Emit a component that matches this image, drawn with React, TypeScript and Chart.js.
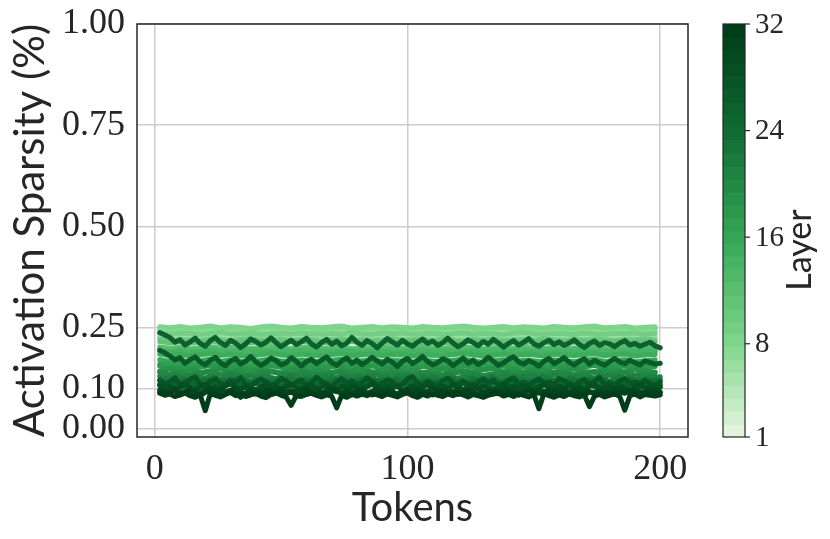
import { useEffect, useRef } from "react";
import { Chart, registerables } from "chart.js";

Chart.register(...registerables);

// Token positions for the smoother (early / mid) layers
const tokensCoarse = [2, 6, 10, 14, 18, 22, 26, 30, 34, 38, 42, 46, 50, 54, 58, 62, 66, 70, 74, 78, 82, 86, 90, 94, 98, 102, 106, 110, 114, 118, 122, 126, 130, 134, 138, 142, 146, 150, 154, 158, 162, 166, 170, 174, 178, 182, 186, 190, 194, 198];
// Token positions for the noisy (late) layers
const tokensFine = [2, 4, 6, 8, 10, 12, 14, 16, 18, 20, 22, 24, 26, 28, 30, 32, 34, 36, 38, 40, 42, 44, 46, 48, 50, 52, 54, 56, 58, 60, 62, 64, 66, 68, 70, 72, 74, 76, 78, 80, 82, 84, 86, 88, 90, 92, 94, 96, 98, 100, 102, 104, 106, 108, 110, 112, 114, 116, 118, 120, 122, 124, 126, 128, 130, 132, 134, 136, 138, 140, 142, 144, 146, 148, 150, 152, 154, 156, 158, 160, 162, 164, 166, 168, 170, 172, 174, 176, 178, 180, 182, 184, 186, 188, 190, 192, 194, 196, 198, 200];

// Activation sparsity per layer
const layer01 = [.244,.242,.243,.245,.241,.243,.244,.242,.240,.243,.245,.243,.242,.244,.241,.243,.245,.242,.243,.241,.244,.243,.242,.245,.243,.241,.242,.244,.243,.242,.245,.243,.241,.243,.244,.242,.243,.245,.242,.241,.243,.244,.242,.243,.245,.242,.243,.241,.244,.243];
const layer02 = [.207,.203,.206,.202,.205,.208,.204,.206,.203,.201,.206,.208,.205,.202,.207,.204,.203,.206,.208,.202,.205,.207,.203,.206,.205,.202,.207,.204,.203,.206,.208,.205,.202,.204,.207,.203,.206,.205,.202,.207,.205,.203,.206,.208,.203,.205,.207,.202,.205,.206];
const layer03 = [.177,.175,.178,.174,.176,.175,.179,.176,.174,.177,.178,.175,.176,.174,.178,.176,.175,.177,.174,.176,.179,.175,.176,.178,.174,.176,.177,.175,.178,.176,.174,.177,.176,.179,.175,.176,.174,.177,.178,.175,.176,.174,.177,.176,.178,.175,.174,.177,.176,.175];
const layer04 = [.230,.228,.231,.229,.227,.230,.232,.229,.228,.230,.231,.228,.229,.231,.227,.229,.230,.232,.228,.229,.231,.230,.227,.229,.230,.232,.229,.228,.230,.231,.229,.227,.230,.229,.231,.228,.230,.232,.229,.228,.230,.229,.231,.227,.229,.230,.231,.228,.230,.229];
const layer05 = [.240,.237,.239,.236,.238,.241,.237,.239,.238,.235,.239,.241,.238,.236,.240,.238,.237,.239,.241,.236,.238,.240,.237,.239,.238,.236,.240,.238,.237,.239,.241,.238,.236,.238,.240,.237,.239,.238,.236,.240,.238,.237,.239,.241,.237,.238,.240,.236,.238,.239];
const layer06 = [.228,.224,.227,.225,.223,.228,.226,.224,.227,.229,.225,.226,.228,.224,.226,.227,.223,.226,.228,.225,.227,.224,.226,.229,.225,.226,.228,.224,.227,.225,.223,.227,.226,.228,.224,.226,.227,.225,.229,.226,.224,.227,.225,.228,.226,.224,.227,.226,.228,.225];
const layer07 = [.247,.245,.248,.244,.246,.249,.245,.247,.246,.243,.247,.249,.246,.244,.248,.246,.245,.247,.249,.244,.246,.248,.245,.247,.246,.244,.248,.246,.245,.247,.249,.246,.244,.246,.248,.245,.247,.246,.244,.248,.246,.245,.247,.249,.245,.246,.248,.244,.246,.247];
const layer08 = [.252,.250,.253,.249,.251,.254,.250,.252,.251,.248,.252,.254,.251,.249,.253,.251,.250,.252,.254,.249,.251,.253,.250,.252,.251,.249,.253,.251,.250,.252,.254,.251,.249,.251,.253,.250,.252,.251,.249,.253,.251,.250,.252,.254,.250,.251,.253,.249,.251,.252];
const layer09 = [.236,.234,.237,.235,.233,.236,.238,.234,.235,.237,.233,.235,.236,.234,.237,.235,.233,.236,.234,.238,.235,.233,.236,.235,.237,.234,.235,.236,.233,.235,.237,.234,.236,.235,.233,.236,.238,.235,.234,.236,.235,.233,.237,.235,.234,.236,.235,.237,.234,.236];
const layer10 = [.222,.218,.221,.219,.217,.222,.220,.218,.221,.223,.219,.220,.222,.218,.220,.221,.217,.220,.222,.219,.221,.218,.220,.223,.219,.220,.222,.218,.221,.219,.217,.221,.220,.222,.218,.220,.221,.219,.223,.220,.218,.221,.219,.222,.220,.218,.221,.220,.222,.219];
const layer11 = [.216,.213,.215,.212,.214,.217,.213,.215,.214,.212,.216,.214,.213,.215,.217,.213,.214,.212,.215,.216,.213,.214,.215,.212,.214,.216,.213,.215,.214,.212,.215,.217,.214,.213,.215,.214,.212,.216,.214,.213,.215,.214,.216,.213,.214,.215,.212,.214,.216,.214];
const layer12 = [.202,.199,.201,.198,.200,.203,.199,.201,.200,.197,.201,.203,.200,.198,.201,.202,.199,.200,.202,.198,.200,.201,.203,.199,.200,.198,.202,.200,.199,.201,.203,.200,.198,.200,.202,.199,.201,.200,.198,.202,.200,.199,.201,.203,.199,.200,.202,.198,.200,.201];
const layer13 = [.196,.192,.195,.193,.191,.197,.194,.192,.196,.198,.193,.194,.197,.192,.194,.196,.191,.194,.197,.193,.195,.192,.194,.198,.193,.194,.197,.192,.195,.193,.191,.196,.194,.197,.192,.194,.196,.193,.198,.194,.192,.196,.193,.197,.194,.192,.196,.194,.197,.193];
const layer14 = [.192,.189,.191,.188,.190,.193,.189,.190,.191,.188,.192,.190,.189,.191,.193,.189,.190,.188,.191,.192,.189,.190,.191,.188,.190,.192,.189,.191,.190,.188,.191,.193,.190,.189,.191,.190,.188,.192,.190,.189,.191,.190,.192,.189,.190,.191,.188,.190,.192,.190];
const layer15 = [.185,.181,.184,.180,.183,.186,.182,.184,.181,.179,.184,.186,.183,.180,.185,.182,.181,.184,.186,.180,.183,.185,.181,.184,.183,.180,.185,.182,.181,.184,.186,.183,.180,.182,.185,.181,.184,.183,.180,.185,.183,.181,.184,.186,.181,.183,.185,.180,.183,.184];
const layer16 = [.171,.166,.169,.165,.168,.172,.166,.170,.167,.164,.169,.172,.168,.165,.170,.167,.165,.169,.172,.165,.168,.171,.166,.169,.168,.164,.170,.167,.166,.169,.172,.168,.164,.167,.171,.166,.169,.168,.165,.170,.168,.166,.169,.172,.166,.168,.171,.165,.168,.170];
const layer17 = [.160,.157,.159,.156,.158,.161,.157,.159,.158,.155,.159,.161,.158,.156,.159,.160,.157,.158,.160,.156,.158,.159,.161,.157,.158,.156,.160,.158,.157,.159,.161,.158,.156,.158,.160,.157,.159,.158,.156,.160,.158,.157,.159,.161,.157,.158,.160,.156,.158,.159];
const layer18 = [.155,.149,.153,.148,.152,.157,.150,.154,.151,.147,.153,.156,.152,.148,.155,.151,.149,.153,.157,.148,.152,.155,.150,.153,.152,.147,.154,.151,.149,.153,.156,.152,.147,.151,.155,.149,.153,.152,.148,.154,.152,.149,.153,.157,.149,.152,.155,.148,.152,.154];
const layer19 = [.143,.148,.141,.146,.139,.144,.149,.142,.145,.140,.147,.143,.138,.145,.148,.141,.144,.139,.146,.142,.149,.140,.144,.147,.141,.145,.138,.143,.148,.142,.144,.140,.146,.149,.141,.143,.139,.147,.144,.140,.145,.148,.142,.139,.146,.143,.141,.147,.144,.140];
const layer20 = [.140,.134,.138,.133,.137,.142,.135,.139,.136,.131,.138,.141,.137,.133,.140,.136,.134,.138,.142,.133,.137,.140,.135,.138,.137,.132,.139,.136,.134,.138,.141,.137,.132,.136,.140,.134,.138,.137,.133,.139,.137,.134,.138,.142,.134,.137,.140,.133,.137,.139];
const layer21 = [.131,.126,.129,.134,.127,.124,.130,.133,.128,.125,.131,.127,.122,.129,.134,.130,.126,.128,.132,.125,.129,.133,.127,.124,.130,.128,.135,.129,.126,.131,.127,.123,.129,.132,.128,.126,.133,.129,.124,.128,.131,.127,.130,.134,.126,.129,.125,.131,.128,.133,.127,.124,.130,.128,.132,.126,.129,.135,.128,.125,.130,.127,.132,.129,.124,.128,.131,.126,.130,.133,.127,.125,.129,.132,.128,.126,.131,.127,.134,.129,.125,.130,.128,.132,.126,.129,.124,.131,.128,.133,.127,.130,.126,.129,.132,.128,.125,.130,.127,.129];
const layer22 = [.118,.124,.121,.117,.125,.122,.119,.126,.120,.116,.123,.127,.121,.118,.124,.120,.125,.122,.117,.121,.126,.119,.123,.120,.116,.124,.128,.121,.118,.123,.120,.125,.119,.122,.127,.120,.117,.124,.121,.125,.119,.122,.126,.118,.121,.124,.120,.116,.123,.127,.121,.119,.124,.120,.125,.122,.118,.123,.126,.120,.117,.122,.125,.121,.119,.124,.127,.120,.118,.123,.121,.126,.119,.122,.117,.124,.128,.121,.119,.123,.120,.125,.122,.118,.124,.121,.126,.119,.122,.117,.123,.127,.120,.124,.121,.118,.125,.122,.119,.123];
const layer23 = [.121,.114,.118,.123,.113,.117,.120,.112,.116,.122,.118,.111,.115,.121,.117,.124,.114,.118,.112,.119,.123,.116,.113,.120,.117,.122,.114,.110,.118,.121,.116,.124,.119,.113,.117,.122,.115,.119,.112,.118,.124,.117,.114,.120,.116,.111,.119,.123,.115,.118,.121,.113,.117,.122,.116,.120,.112,.118,.124,.115,.119,.113,.121,.117,.114,.120,.123,.116,.112,.118,.122,.115,.119,.113,.117,.124,.118,.114,.120,.116,.112,.119,.123,.115,.118,.121,.114,.117,.122,.116,.113,.120,.118,.124,.115,.119,.113,.117,.121,.116];
const layer24 = [.109,.115,.111,.106,.114,.117,.108,.112,.105,.113,.118,.110,.107,.114,.111,.116,.106,.110,.115,.112,.108,.117,.113,.105,.111,.116,.109,.113,.107,.112,.118,.110,.106,.114,.111,.108,.116,.112,.105,.110,.115,.109,.113,.117,.107,.111,.114,.106,.112,.116,.110,.108,.115,.111,.105,.113,.118,.109,.112,.107,.114,.110,.116,.108,.112,.106,.113,.117,.110,.107,.115,.111,.109,.114,.105,.112,.116,.108,.113,.110,.107,.115,.111,.118,.109,.112,.106,.114,.110,.116,.108,.113,.105,.111,.117,.109,.112,.107,.114,.110];
const layer25 = [.110,.103,.108,.113,.101,.106,.111,.104,.099,.108,.114,.105,.102,.109,.112,.104,.107,.100,.110,.115,.106,.102,.108,.111,.103,.098,.107,.113,.105,.109,.101,.106,.112,.104,.108,.100,.110,.114,.103,.107,.102,.109,.113,.105,.099,.106,.111,.104,.108,.115,.103,.107,.101,.110,.105,.112,.100,.106,.109,.103,.113,.107,.101,.108,.111,.104,.098,.106,.112,.105,.109,.102,.107,.114,.104,.100,.108,.111,.105,.103,.109,.113,.106,.101,.107,.110,.104,.099,.108,.112,.105,.102,.109,.106,.114,.103,.107,.100,.110,.106];
const layer26 = [.238,.232,.226,.214,.220,.207,.215,.224,.211,.204,.218,.226,.213,.206,.219,.212,.201,.210,.222,.216,.207,.214,.225,.213,.203,.211,.219,.208,.215,.224,.210,.202,.213,.221,.209,.217,.205,.212,.226,.214,.206,.218,.211,.200,.212,.223,.215,.207,.219,.210,.204,.214,.222,.211,.217,.206,.213,.224,.212,.203,.210,.220,.213,.205,.216,.209,.221,.212,.202,.211,.218,.207,.214,.223,.210,.204,.213,.219,.208,.215,.206,.212,.220,.209,.201,.211,.217,.206,.213,.210,.203,.212,.218,.207,.211,.204,.209,.214,.205,.200];
const layer27 = [.194,.188,.180,.170,.176,.162,.171,.178,.165,.158,.169,.177,.163,.156,.168,.174,.160,.167,.179,.166,.157,.164,.175,.169,.158,.163,.176,.167,.155,.166,.172,.161,.170,.178,.164,.157,.168,.175,.162,.170,.159,.166,.177,.168,.160,.172,.165,.154,.167,.174,.161,.169,.179,.166,.158,.164,.173,.168,.156,.165,.175,.162,.170,.159,.166,.177,.167,.157,.163,.172,.178,.165,.160,.169,.163,.155,.167,.174,.161,.168,.176,.164,.158,.167,.173,.160,.169,.163,.157,.166,.174,.165,.161,.170,.163,.158,.168,.164,.160,.162];
const layer28 = [.121,.110,.116,.126,.108,.113,.122,.128,.111,.105,.118,.124,.112,.107,.120,.115,.127,.110,.104,.116,.123,.117,.107,.112,.125,.118,.108,.115,.121,.106,.113,.128,.117,.110,.103,.116,.124,.112,.119,.108,.114,.126,.118,.107,.112,.121,.116,.105,.111,.123,.129,.113,.108,.117,.112,.106,.120,.125,.114,.109,.118,.111,.104,.116,.124,.113,.121,.107,.112,.120,.126,.110,.115,.106,.117,.123,.111,.116,.108,.124,.118,.112,.105,.115,.122,.111,.117,.127,.109,.114,.107,.118,.124,.112,.116,.110,.120,.113,.106,.117];
const layer29 = [.107,.100,.105,.097,.103,.111,.101,.095,.105,.110,.099,.104,.096,.106,.112,.102,.098,.105,.100,.093,.104,.109,.099,.103,.096,.106,.111,.101,.098,.104,.108,.097,.103,.110,.100,.095,.105,.099,.106,.101,.097,.104,.111,.102,.098,.105,.100,.107,.094,.101,.106,.099,.104,.110,.101,.097,.105,.100,.107,.103,.096,.104,.109,.099,.105,.101,.095,.103,.110,.100,.105,.098,.106,.101,.097,.104,.111,.102,.099,.105,.100,.107,.098,.103,.096,.105,.109,.101,.099,.104,.098,.106,.101,.095,.104,.109,.100,.105,.099,.103];
const layer30 = [.097,.090,.094,.100,.088,.093,.098,.091,.086,.095,.099,.092,.096,.089,.094,.101,.090,.087,.095,.098,.093,.089,.097,.092,.099,.088,.094,.091,.096,.100,.090,.093,.087,.095,.098,.092,.089,.096,.091,.094,.099,.088,.093,.097,.090,.095,.092,.086,.094,.098,.091,.096,.089,.093,.100,.092,.088,.095,.091,.097,.093,.089,.096,.099,.090,.094,.087,.092,.097,.091,.095,.088,.093,.098,.090,.094,.092,.096,.089,.095,.099,.091,.087,.094,.097,.092,.090,.095,.088,.093,.098,.091,.094,.089,.096,.092,.088,.094,.097,.091];
const layer31 = [.092,.086,.091,.095,.084,.089,.093,.087,.082,.090,.094,.088,.085,.091,.096,.089,.078,.087,.092,.086,.090,.095,.085,.088,.093,.087,.091,.084,.089,.094,.088,.083,.090,.086,.092,.096,.087,.089,.085,.091,.094,.088,.084,.090,.087,.093,.089,.085,.091,.095,.088,.086,.092,.089,.084,.090,.094,.087,.091,.085,.089,.093,.088,.084,.091,.087,.095,.089,.086,.092,.088,.083,.090,.094,.087,.089,.085,.091,.093,.088,.086,.090,.094,.087,.084,.091,.088,.093,.086,.090,.085,.092,.088,.095,.087,.083,.090,.092,.086,.089];
const layer32 = [.088,.083,.086,.080,.084,.089,.082,.078,.084,.045,.087,.083,.079,.085,.090,.082,.086,.080,.084,.088,.081,.077,.085,.089,.083,.079,.058,.082,.080,.085,.088,.083,.079,.084,.081,.052,.083,.078,.085,.081,.086,.082,.087,.084,.080,.086,.083,.079,.085,.089,.082,.078,.085,.081,.087,.083,.080,.086,.082,.088,.084,.079,.085,.082,.078,.083,.086,.088,.081,.085,.080,.086,.083,.079,.085,.050,.087,.082,.078,.084,.080,.086,.082,.079,.084,.055,.081,.085,.079,.083,.087,.080,.046,.082,.086,.079,.085,.083,.081,.084];

const layers = [layer01, layer02, layer03, layer04, layer05, layer06, layer07, layer08, layer09, layer10, layer11, layer12, layer13, layer14, layer15, layer16, layer17, layer18, layer19, layer20, layer21, layer22, layer23, layer24, layer25, layer26, layer27, layer28, layer29, layer30, layer31, layer32];

const xTicks = [0, 100, 200];
const yTicks = [0, 0.1, 0.25, 0.5, 0.75, 1.0];
const colorbarTicks = [1, 8, 16, 24, 32];
const layerMin = 1;
const layerMax = 32;

// green colour ramp (light to dark)
const rampStops: [number, [number, number, number]][] = [
  [0, [224, 245, 219]],
  [0.226, [125, 212, 138]],
  [0.484, [52, 166, 86]],
  [0.742, [16, 108, 52]],
  [1, [0, 62, 25]],
];

function rampAt(t: number): string {
  const tt = Math.max(0, Math.min(1, t));
  for (let i = 0; i < rampStops.length - 1; i++) {
    const [t0, a] = rampStops[i];
    const [t1, b] = rampStops[i + 1];
    if (tt <= t1) {
      const f = (tt - t0) / (t1 - t0);
      return `rgb(${Math.round(a[0] + (b[0] - a[0]) * f)},${Math.round(a[1] + (b[1] - a[1]) * f)},${Math.round(a[2] + (b[2] - a[2]) * f)})`;
    }
  }
  const last = rampStops[rampStops.length - 1][1];
  return `rgb(${last[0]},${last[1]},${last[2]})`;
}

function layerColor(layer: number): string {
  return rampAt((layer - layerMin) / (layerMax - layerMin));
}

const TEXT = "#262626";
const SERIF = "'Liberation Serif', 'DejaVu Serif', serif";
const SANS = "Lato, 'DejaVu Sans', sans-serif";

const framePlugin = {
  id: "frameAndColorbar",
  afterDraw(chart: any) {
    const { ctx, chartArea } = chart;
    ctx.save();
    ctx.strokeStyle = TEXT;
    ctx.lineWidth = 1.5;
    ctx.strokeRect(chartArea.left, chartArea.top, chartArea.right - chartArea.left, chartArea.bottom - chartArea.top);

    // colorbar
    const x0 = 723;
    const w = 22;
    const top = chartArea.top;
    const bottom = chartArea.bottom;
    const n = layerMax - layerMin + 1;
    const h = (bottom - top) / n;
    for (let k = 0; k < n; k++) {
      ctx.fillStyle = layerColor(layerMin + k);
      const yTop = bottom - (k + 1) * h;
      ctx.fillRect(x0, yTop, w, h + 0.6);
    }
    ctx.strokeStyle = TEXT;
    ctx.lineWidth = 1.2;
    ctx.strokeRect(x0, top, w, bottom - top);
    ctx.fillStyle = TEXT;
    ctx.font = `29px ${SERIF}`;
    ctx.textAlign = "left";
    ctx.textBaseline = "middle";
    for (const t of colorbarTicks) {
      const y = bottom - ((t - layerMin) / (layerMax - layerMin)) * (bottom - top);
      ctx.beginPath();
      ctx.moveTo(x0 + w, y);
      ctx.lineTo(x0 + w + 5, y);
      ctx.stroke();
      ctx.fillText(String(t), x0 + w + 10, y + 1);
    }
    ctx.translate(800, 250);
    ctx.rotate(-Math.PI / 2);
    ctx.textAlign = "center";
    ctx.textBaseline = "middle";
    ctx.font = `34px ${SANS}`;
    ctx.fillText("Layer", 0, 0);
    ctx.restore();
  },
};

export default function App() {
  const canvasRef = useRef<HTMLCanvasElement | null>(null);

  useEffect(() => {
    if (!canvasRef.current) return;
    const datasets = layers.map((vals, i) => {
      const xs = vals.length === tokensFine.length ? tokensFine : tokensCoarse;
      return {
        label: `Layer ${i + 1}`,
        data: vals.map((v, j) => ({ x: xs[j], y: v })),
        borderColor: layerColor(i + 1),
        backgroundColor: layerColor(i + 1),
        borderWidth: 5,
        pointRadius: 0,
        fill: false,
        tension: 0,
        borderJoinStyle: "round" as const,
        borderCapStyle: "round" as const,
        order: layers.length - i,
      };
    });
    const chart = new Chart(canvasRef.current, {
      type: "line",
      data: { datasets },
      options: {
        animation: false,
        responsive: true,
        maintainAspectRatio: false,
        layout: { padding: { left: 0, top: 24, right: 142, bottom: 0 } },
        plugins: { legend: { display: false }, tooltip: { enabled: false } },
        scales: {
          x: {
            type: "linear",
            min: -7,
            max: 211,
            afterBuildTicks: (s: any) => { s.ticks = xTicks.map((v) => ({ value: v })); },
            afterFit: (s: any) => { s.height = 102; s.paddingLeft = 0; s.paddingRight = 0; },
            grid: { color: "#cccccc", lineWidth: 1.5, drawTicks: false },
            border: { display: false },
            ticks: {
              padding: 11,
              maxRotation: 0,
              autoSkip: false,
              color: TEXT,
              font: { family: SERIF, size: 36 },
              callback: (v: any) => String(v),
            },
            title: {
              display: true,
              text: "Tokens",
              color: TEXT,
              font: { family: SANS, size: 40 },
              padding: { top: 0, bottom: 7 },
            },
          },
          y: {
            type: "linear",
            min: -0.02,
            max: 1,
            afterBuildTicks: (s: any) => { s.ticks = yTicks.map((v) => ({ value: v })); },
            afterFit: (s: any) => { s.width = 137; s.paddingTop = 0; s.paddingBottom = 0; },
            grid: { color: "#cccccc", lineWidth: 1.5, drawTicks: false },
            border: { display: false },
            ticks: {
              padding: 12,
              autoSkip: false,
              color: TEXT,
              font: { family: SERIF, size: 36 },
              callback: (v: any) => Number(v).toFixed(2),
            },
            title: {
              display: true,
              text: "Activation Sparsity (%)",
              color: TEXT,
              font: { family: SANS, size: 42 },
              padding: { top: 5, bottom: 0 },
            },
          },
        },
      },
      plugins: [framePlugin],
    });
    return () => chart.destroy();
  }, []);

  return (
    <div style={{ position: "absolute", left: 0, top: 0, width: 830, height: 539, background: "#fff" }}>
      <canvas ref={canvasRef} />
    </div>
  );
}
